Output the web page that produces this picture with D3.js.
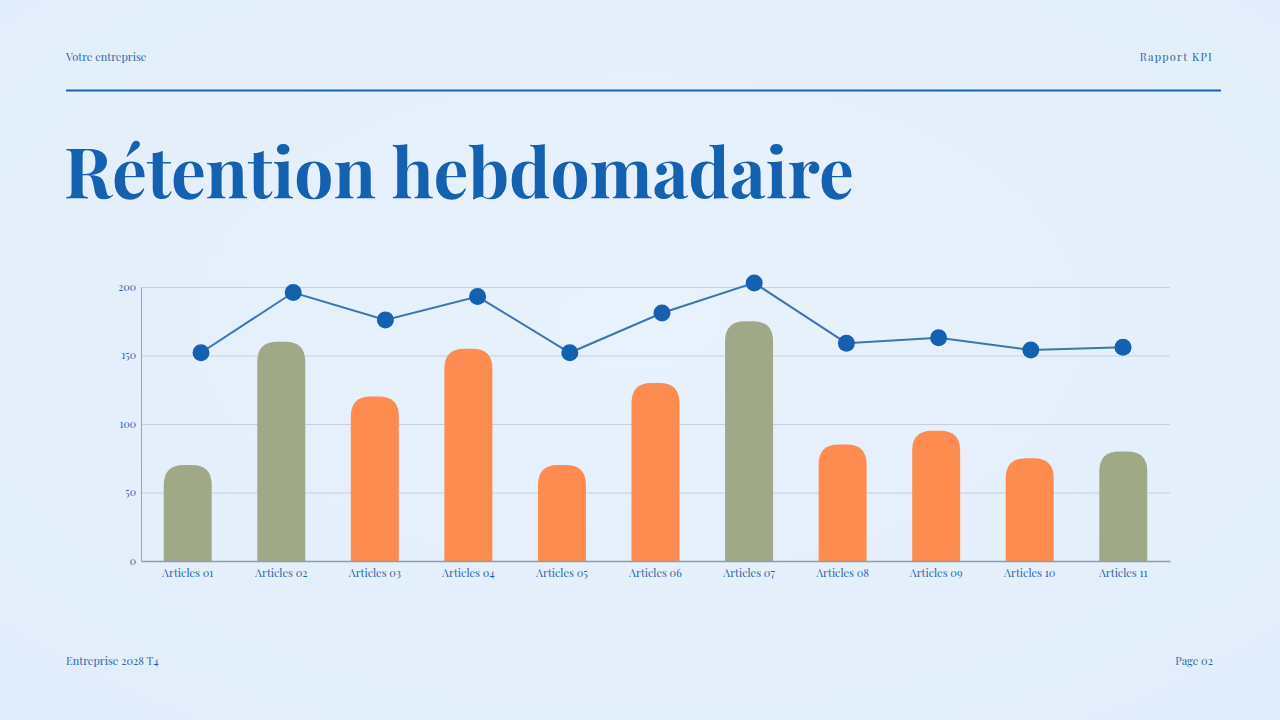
<!DOCTYPE html>
<html><head><meta charset="utf-8">
<script src="https://cdn.jsdelivr.net/npm/d3@7"></script>
<style>
html,body{margin:0;padding:0;background:#e4effc;}
svg{display:block;font-family:"Playfair Display","Liberation Serif","DejaVu Serif",serif;}
</style></head>
<body>
<svg id="c" width="1280" height="720"></svg>
<script>
const categories = ["Articles 01","Articles 02","Articles 03","Articles 04","Articles 05","Articles 06","Articles 07","Articles 08","Articles 09","Articles 10","Articles 11"];
const barValues = [70,160,120,155,70,130,175,85,95,75,80];
const lineValues = [152,196,176,193,152,181,203,159,163,154,156];
const barGroups = ["a","a","b","b","b","b","a","b","b","b","a"];
const yTicks = [0,50,100,150,200];
const titleText = "Rétention hebdomadaire";
const headerLeft = "Votre entreprise";
const headerRight = "Rapport KPI";
const footerLeft = "Entreprise 2028 T4";
const footerRight = "Page 02";

const FONT = '"Playfair Display","Liberation Serif","DejaVu Serif",serif';
const svg = d3.select("#c");
const blue = "#1a62b0", textBlue = "#2c63a6";

// background
const defs = svg.append("defs");
const g0 = defs.append("radialGradient").attr("id","bg").attr("cx","50%").attr("cy","45%").attr("r","75%");
g0.append("stop").attr("offset","0%").attr("stop-color","#e8f2fd");
g0.append("stop").attr("offset","100%").attr("stop-color","#e2edfb");
svg.append("rect").attr("width",1280).attr("height",720).attr("fill","url(#bg)");

// header
svg.append("text").attr("x",66).attr("y",61).attr("font-size",11).attr("fill",textBlue).text(headerLeft);
svg.append("text").attr("x",1213).attr("y",61).attr("font-size",11).attr("fill",textBlue)
  .attr("letter-spacing",1.2).attr("text-anchor","end").text(headerRight);
svg.append("line").attr("x1",66).attr("x2",1221).attr("y1",90.5).attr("y2",90.5).attr("stroke",blue).attr("stroke-width",2);

// title
const title = svg.append("text").attr("x",64).attr("y",198).attr("font-size",76).attr("font-weight",700)
  .attr("fill","#1560b0").text(titleText);
const tw = title.node().getComputedTextLength();
if (tw > 0) title.attr("font-size", 76 * 790 / tw);

// footer
svg.append("text").attr("x",66).attr("y",665).attr("font-size",11).attr("fill",textBlue).text(footerLeft);
svg.append("text").attr("x",1213).attr("y",665).attr("font-size",11).attr("fill",textBlue).attr("text-anchor","end").text(footerRight);

// chart
const x0 = 141, x1 = 1170, yTop = 287, yBot = 561;
const x = d3.scaleBand().domain(categories).range([x0,x1]).paddingInner(0.487).paddingOuter(0.243);
const xp = d3.scalePoint().domain(categories).range([201,1123]);
const y = d3.scaleLinear().domain([0,200]).range([yBot,yTop]);
const color = d3.scaleOrdinal().domain(["a","b"]).range(["#a0a987","#fe8b4f"]);

const chart = svg.append("g");
// gridlines
chart.append("g").selectAll("line").data(yTicks.filter(d=>d>0)).join("line")
  .attr("x1",x0).attr("x2",x1).attr("y1",d=>y(d)+0.5).attr("y2",d=>y(d)+0.5)
  .attr("stroke","#c3d0e2").attr("stroke-width",1);

// y axis
const yAxis = chart.append("g").attr("transform",`translate(${x0},0)`)
  .call(d3.axisLeft(y).tickValues(yTicks).tickSize(0).tickPadding(5));
yAxis.attr("font-family",FONT);
yAxis.select(".domain").attr("stroke","#9aa6b8");
yAxis.selectAll("text").attr("font-size",10.5).attr("fill",textBlue);

// bars with rounded tops
const r = 20;
function barPath(d,i){
  const bx = x(categories[i]), bw = x.bandwidth(), top = y(d), bot = yBot;
  const rr = Math.min(r, bw/2, (bot-top));
  return `M${bx},${bot} L${bx},${top+rr} Q${bx},${top} ${bx+rr},${top} L${bx+bw-rr},${top} Q${bx+bw},${top} ${bx+bw},${top+rr} L${bx+bw},${bot} Z`;
}
chart.append("g").selectAll("path").data(barValues).join("path")
  .attr("d",(d,i)=>barPath(d,i)).attr("fill",(d,i)=>color(barGroups[i]));

// x axis
const xAxis = chart.append("g").attr("transform",`translate(0,${yBot})`)
  .call(d3.axisBottom(x).tickSize(0).tickPadding(8));
xAxis.attr("font-family",FONT);
xAxis.select(".domain").attr("stroke","#8e9cb0").attr("stroke-width",1.5);
xAxis.selectAll("text").attr("font-size",11).attr("fill",textBlue);

// line
const line = d3.line().x((d,i)=>xp(categories[i])).y(d=>y(d));
chart.append("path").datum(lineValues).attr("d",line).attr("fill","none")
  .attr("stroke","#3d74b3").attr("stroke-width",2);
chart.append("g").selectAll("circle").data(lineValues).join("circle")
  .attr("cx",(d,i)=>xp(categories[i])).attr("cy",d=>y(d)).attr("r",8.5).attr("fill","#1560b0");
</script>
</body></html>
